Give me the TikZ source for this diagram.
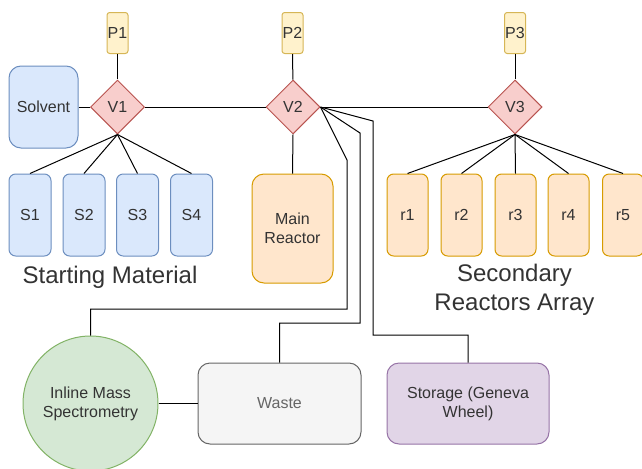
\documentclass[tikz,border=0pt]{standalone}
\usepackage{fontspec}
\setmainfont{Liberation Sans}
\usetikzlibrary{shapes.geometric}
\definecolor{blueF}{HTML}{DAE8FC}\definecolor{blueD}{HTML}{6C8EBF}
\definecolor{yelF}{HTML}{FFF2CC}\definecolor{yelD}{HTML}{D6B656}
\definecolor{redF}{HTML}{F8CECC}\definecolor{redD}{HTML}{B85450}
\definecolor{orF}{HTML}{FFE6CC}\definecolor{orD}{HTML}{D79B00}
\definecolor{grF}{HTML}{D5E8D4}\definecolor{grD}{HTML}{82B366}
\definecolor{gyF}{HTML}{F5F5F5}\definecolor{gyD}{HTML}{666666}
\definecolor{puF}{HTML}{E1D5E7}\definecolor{puD}{HTML}{9673A6}
\definecolor{txt}{HTML}{333333}
\begin{document}
\begin{tikzpicture}[x=0.75pt,y=-0.75pt,
  base/.style={draw, line width=0.75pt, align=center, inner sep=0pt, text=txt,
    font=\fontsize{12}{14.25}\selectfont},
  smallbox/.style={base, rectangle, rounded corners=5pt, minimum width=31.5pt, minimum height=61.5pt},
  sbox/.style={smallbox, fill=blueF, draw=blueD},
  rbox/.style={smallbox, fill=orF, draw=orD, minimum width=30.75pt},
  pbox/.style={base, rectangle, rounded corners=2pt, fill=yelF, draw=yelD, minimum width=15.75pt, minimum height=30.75pt},
  valve/.style={base, diamond, fill=redF, draw=redD, minimum width=40.5pt, minimum height=40.5pt},
  bigbox/.style={base, rectangle, rounded corners=9pt},
  lbl/.style={text=txt, align=center, font=\fontsize{18}{21.75}\selectfont},
  conn/.style={line width=0.75pt, black}
]
\useasboundingbox (0,0) rectangle (642,468);

\node[pbox] (P1) at (117.5,33) {P1};
\node[pbox] (P2) at (292.5,33) {P2};
\node[pbox] (P3) at (515,33) {P3};

\node[valve] (V1) at (117.5,107) {V1};
\node[valve] (V2) at (293,107) {V2};
\node[valve] (V3) at (515,107) {V3};

\node[bigbox, fill=blueF, draw=blueD, minimum width=51.75pt, minimum height=61.5pt] (Solvent) at (43.5,107) {Solvent};

\node[sbox] (S1) at (30,215) {S1};
\node[sbox] (S2) at (84,215) {S2};
\node[sbox] (S3) at (137.5,215) {S3};
\node[sbox] (S4) at (191.5,215) {S4};

\node[bigbox, fill=orF, draw=orD, minimum width=60.75pt, minimum height=81.75pt] (Main) at (292.5,228.5) {Main\\Reactor};

\node[rbox] (r1) at (407.5,215) {r1};
\node[rbox] (r2) at (461.5,215) {r2};
\node[rbox] (r3) at (515.5,215) {r3};
\node[rbox] (r4) at (568.5,215) {r4};
\node[rbox] (r5) at (623,215) {r5};

\node[lbl] (SM) at (110,277) {Starting Material};
\node[lbl] (SRA) at (514.5,290) {Secondary\\Reactors Array};

\node[base, circle, fill=grF, draw=grD, minimum size=101.25pt] (MS) at (90.5,403.5) {Inline Mass\\Spectrometry};
\node[bigbox, fill=gyF, draw=gyD, text=gyD, minimum width=122.25pt, minimum height=60.75pt] (Waste) at (279.5,403.5) {Waste};
\node[bigbox, fill=puF, draw=puD, minimum width=121.5pt, minimum height=60.75pt] (Storage) at (468,403.5) {Storage (Geneva\\Wheel)};

\draw[conn] (P1) -- (V1);
\draw[conn] (P2) -- (V2);
\draw[conn] (P3) -- (V3);
\draw[conn] (Solvent.east) -- (V1.west);
\draw[conn] (V1.east) -- (V2.west);
\draw[conn] (V2.east) -- (V3.west);
\foreach \s in {S1,S2,S3,S4} \draw[conn] (V1.south) -- (\s.north);
\foreach \r in {r1,r2,r3,r4,r5} \draw[conn] (V3.south) -- (\r.north);
\draw[conn] (V2.south) -- (Main.north);

\coordinate (a1) at (347,160);
\coordinate (a2) at (347,309);
\coordinate (b1) at (360,133);
\coordinate (b2) at (360,323);
\coordinate (c1) at (373,121);
\coordinate (c2) at (373,335);
\draw[conn] (V2.east) -- (a1) -- (a2) -| (MS.north);
\draw[conn] (V2.east) -- (b1) -- (b2) -| (Waste.north);
\draw[conn] (V2.east) -- (c1) -- (c2) -| (Storage.north);
\draw[conn] (MS.east) -- (Waste.west);
\end{tikzpicture}
\end{document}
